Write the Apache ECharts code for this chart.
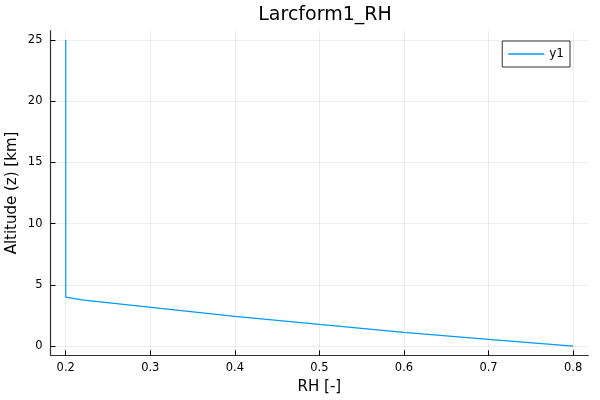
<!DOCTYPE html>
<html>
<head>
<meta charset="utf-8">
<script src="https://cdn.jsdelivr.net/npm/echarts@6/dist/echarts.min.js"></script>
<style>
  html, body { margin: 0; padding: 0; background: #fff; }
  #chart { width: 600px; height: 400px; }
</style>
</head>
<body>
<div id="chart"></div>
<script>
// profil d'humidité relative
var rhValues = [0.8, 0.7, 0.6, 0.5, 0.4, 0.323, 0.219, 0.2, 0.2];
var zValues  = [0, 0.55, 1.12, 1.77, 2.43, 3.0, 3.78, 4.0, 25];

var xTicks = [0.2, 0.3, 0.4, 0.5, 0.6, 0.7, 0.8];
var yTicks = [0, 5, 10, 15, 20, 25];

var seriesName = 'y1';

function buildData()
{
    var out = [];
    for (var i = 0; i < rhValues.length; i++) {
        out.push([rhValues[i], zValues[i]]);
    }
    return out;
}

var font = 'DejaVu Sans';
var myChart = echarts.init(document.getElementById('chart'));

var option =
{
    animation: false,
    title: {
        text: 'Larcform1_RH',
        left: 320,
        top: 1,
        textAlign: 'center',
        textStyle: { fontFamily: font, fontSize: 19, fontWeight: 'normal', color: '#000' }
    },
    legend: {
        right: 30,
        top: 41,
        orient: 'vertical',
        data: [seriesName],
        icon: 'rect',
        itemWidth: 36,
        itemHeight: 1.3,
        itemGap: 4,
        padding: [7, 6, 7, 6],
        borderColor: '#333',
        borderWidth: 1,
        textStyle: { fontFamily: font, fontSize: 12, color: '#000' }
    },
    grid: {
        left: 50.5,
        right: 11.7,
        top: 30.7,
        bottom: 44.7,
        outerBoundsMode: 'none',
        containLabel: false
    },
    xAxis: {
        type: 'value',
        min: 0.182,
        max: 0.818,
        name: 'RH [-]',
        nameLocation: 'middle',
        nameGap: 24,
        nameMoveOverlap: false,
        nameTextStyle: { fontFamily: font, fontSize: 15, color: '#000' },
        axisLine: { show: true, onZero: false, lineStyle: { color: '#333', width: 1.2 } },
        axisTick: { show: true, inside: true, length: 5, customValues: xTicks, lineStyle: { color: '#000' } },
        axisLabel: { customValues: xTicks, fontFamily: font, fontSize: 11.5, color: '#000', margin: 7 },
        splitLine: { show: true, customValues: xTicks, lineStyle: { color: 'rgba(0,0,0,0.07)', width: 1 } }
    },
    yAxis: {
        type: 'value',
        min: -0.75,
        max: 25.75,
        name: 'Altitude (z) [km]',
        nameLocation: 'middle',
        nameGap: 31,
        nameMoveOverlap: false,
        nameTextStyle: { fontFamily: font, fontSize: 15, color: '#000' },
        axisLine: { show: true, onZero: false, lineStyle: { color: '#333', width: 1.2 } },
        axisTick: { show: true, inside: true, length: 5, customValues: yTicks, lineStyle: { color: '#000' } },
        axisLabel: { customValues: yTicks, fontFamily: font, fontSize: 11.5, color: '#000', margin: 8 },
        splitLine: { show: true, customValues: yTicks, lineStyle: { color: 'rgba(0,0,0,0.07)', width: 1 } }
    },
    series: [
        {
            name: seriesName,
            type: 'line',
            data: buildData(),
            showSymbol: false,
            color: '#009AFA',
            lineStyle: { color: '#009AFA', width: 1.2 },
            clip: true
        }
    ]
};
myChart.setOption(option);
</script>
</body>
</html>
